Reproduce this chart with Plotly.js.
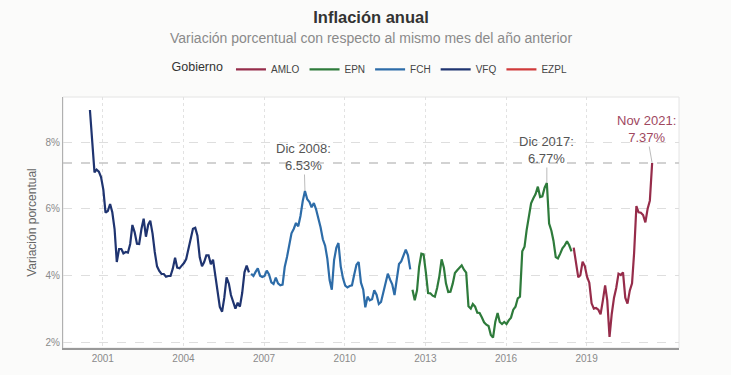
<!DOCTYPE html>
<html>
<head>
<meta charset="utf-8">
<script src="https://cdn.plot.ly/plotly-3.0.1.min.js"></script>
<style>html,body{margin:0;padding:0;background:#fbfbfa;}#chart{width:731px;height:375px;}</style>
</head>
<body>
<div id="chart"></div>
<script>
// Inflación anual (% anual), mensual, por gobierno
const vfqStart = [2000, 12];
const vfq = [8.96,
  8.11,7.09,7.17,7.11,6.95,6.57,5.88,5.93,6.14,5.89,5.39,4.40,
  4.79,4.79,4.66,4.70,4.68,4.94,5.51,5.29,4.95,4.94,5.39,5.70,
  5.16,5.52,5.64,5.25,4.70,4.27,4.13,4.04,4.04,3.96,3.98,3.98,
  4.20,4.53,4.23,4.21,4.29,4.37,4.49,4.82,5.06,5.40,5.43,5.19,
  4.54,4.27,4.39,4.60,4.60,4.33,4.47,3.95,3.51,3.05,2.91,3.33,
  3.94,3.75,3.41,3.20,3.00,3.18,3.06,3.47,4.09,4.29,4.09];
const fchStart = [2006, 12];
const fch = [4.05,
  3.98,4.11,4.21,3.99,3.95,3.98,4.14,4.03,3.79,3.74,3.93,3.76,
  3.70,3.72,4.25,4.55,4.95,5.26,5.39,5.57,5.47,5.78,6.23,6.53,
  6.28,6.20,6.04,6.17,5.98,5.74,5.44,5.08,4.89,4.50,3.86,3.57,
  4.46,4.83,4.97,4.27,3.92,3.69,3.64,3.68,3.70,4.02,4.32,4.40,
  3.78,3.57,3.04,3.36,3.25,3.28,3.55,3.42,3.14,3.20,3.48,3.82,
  4.05,3.87,3.73,3.41,3.85,4.34,4.42,4.57,4.77,4.60,4.18];
const epnStart = [2012, 12];
const epn = [3.57,
  3.25,3.55,4.25,4.65,4.63,4.09,3.47,3.46,3.39,3.36,3.62,3.97,
  4.48,4.23,3.76,3.50,3.51,3.75,4.07,4.15,4.22,4.30,4.17,4.08,
  3.07,3.00,3.14,3.06,2.88,2.87,2.74,2.59,2.52,2.48,2.21,2.13,
  2.61,2.87,2.60,2.54,2.60,2.54,2.65,2.73,2.97,3.06,3.31,3.36,
  4.72,4.86,5.35,5.82,6.16,6.31,6.44,6.66,6.35,6.37,6.63,6.77,
  5.55,5.34,5.04,4.55,4.51,4.65,4.81,4.90,5.02,4.90,4.72];
const amloStart = [2018, 12];
const amlo = [4.83,
  4.37,3.94,4.00,4.41,4.28,3.95,3.78,3.16,3.00,3.02,2.97,2.83,
  3.24,3.70,3.25,2.15,2.84,3.33,3.62,4.05,4.01,4.09,3.33,3.15,
  3.54,3.76,4.67,6.08,5.89,5.88,5.81,5.59,6.00,6.24,7.37];
const ezpl = [null];

const tickYears = ['2001','2004','2007','2010','2013','2016','2019'];
const yTicks = [2, 4, 6, 8];
const yTickText = ['2%', '4%', '6%', '8%'];

const peaks = [
  {label: 'Dic 2008:', date: '2008-12-01', value: 6.53},
  {label: 'Dic 2017:', date: '2017-12-01', value: 6.77},
  {label: 'Nov 2021:', date: '2021-11-01', value: 7.37}
];
const refLine = 7.37;

function monthDates(start, n) {
  const out = [];
  let y = start[0], m = start[1];
  for (let i = 0; i < n; i++) {
    out.push(y + '-' + String(m).padStart(2, '0') + '-01');
    m++; if (m > 12) { m = 1; y++; }
  }
  return out;
}

const colors = {AMLO: '#962c4a', EPN: '#2e7b3b', FCH: '#2d6ca8', VFQ: '#1f3470', EZPL: '#d03a3a'};
function tr(name, start, vals) {
  return {
    type: 'scatter', mode: 'lines', name: name,
    x: start ? monthDates(start, vals.length) : vals.map(() => null),
    y: vals,
    line: {color: colors[name], width: 2.2},
    hoverinfo: 'x+y'
  };
}

const data = [
  tr('AMLO', amloStart, amlo),
  tr('EPN', epnStart, epn),
  tr('FCH', fchStart, fch),
  tr('VFQ', vfqStart, vfq),
  tr('EZPL', null, ezpl)
];

const offs = [[-1, -34], [0, -33], [-6, -34]];
const annColors = ['#555555', '#555555', '#a0485f'];
const annotations = peaks.map((p, i) => ({
  x: p.date, y: p.value, xref: 'x', yref: 'y',
  text: p.label + '<br>' + p.value.toFixed(2) + '%',
  showarrow: true, arrowhead: 0, arrowwidth: 0.8, arrowcolor: '#aaaaaa',
  ax: offs[i][0], ay: offs[i][1],
  font: {family: 'Liberation Sans, Arial, sans-serif', size: 13, color: annColors[i]},
  align: 'center'
}));
annotations.push({
  xref: 'paper', yref: 'paper', x: 0.5, y: 1.235, xanchor: 'center', yanchor: 'middle',
  text: 'Variación porcentual con respecto al mismo mes del año anterior',
  showarrow: false,
  font: {family: 'Liberation Sans, Arial, sans-serif', size: 14, color: '#8a8a8a'}
});

const layout = {
  width: 731, height: 375,
  margin: {l: 63, r: 52, t: 97, b: 27},
  paper_bgcolor: '#fbfbfa',
  plot_bgcolor: '#ffffff',
  font: {family: 'Liberation Sans, Arial, sans-serif', color: '#555'},
  title: {
    text: '<b>Inflación anual</b>',
    x: 0.5, xref: 'paper', xanchor: 'center',
    y: 0.955, yref: 'container', yanchor: 'middle',
    font: {size: 16.5, color: '#333333', family: 'Liberation Sans, Arial, sans-serif'}
  },
  showlegend: true,
  legend: {
    orientation: 'h', x: 0.5, xanchor: 'center', y: 1.11, yanchor: 'middle',
    title: {text: 'Gobierno', font: {size: 12.5, color: '#333'}},
    font: {size: 10, color: '#444'},
    bgcolor: 'rgba(0,0,0,0)'
  },
  xaxis: {
    type: 'date',
    range: ['1999-12-01', '2022-11-01'],
    tickvals: tickYears.map(y => y + '-05-25'),
    ticktext: tickYears,
    tickfont: {size: 10, color: '#8a8a8a'},
    showgrid: true, gridcolor: '#e2e2e2', griddash: 'dot', gridwidth: 1,
    showline: true, linecolor: '#999999', linewidth: 1.5,
    ticks: '', zeroline: false
  },
  yaxis: {
    range: [1.82, 9.35],
    tickvals: yTicks, ticktext: yTickText,
    tickfont: {size: 10, color: '#8a8a8a'},
    showgrid: true, gridcolor: '#dedede', griddash: 'dash', gridwidth: 1,
    showline: true, linecolor: '#b0b0b0', linewidth: 1,
    ticks: '', zeroline: false,
    title: {text: 'Variación porcentual', font: {size: 12, color: '#666'}, standoff: 6}
  },
  shapes: [
    {type: 'line', xref: 'paper', yref: 'y', x0: 0, x1: 1, y0: refLine, y1: refLine,
     line: {color: '#c4c4c4', width: 1.3, dash: 'dash'}},
    {type: 'rect', xref: 'paper', yref: 'paper', x0: 0, x1: 1, y0: 0, y1: 1,
     line: {color: '#e4e4e4', width: 1}, layer: 'below'}
  ],
  annotations: annotations
};

Plotly.newPlot('chart', data, layout, {displayModeBar: false, staticPlot: true});
</script>
</body>
</html>
